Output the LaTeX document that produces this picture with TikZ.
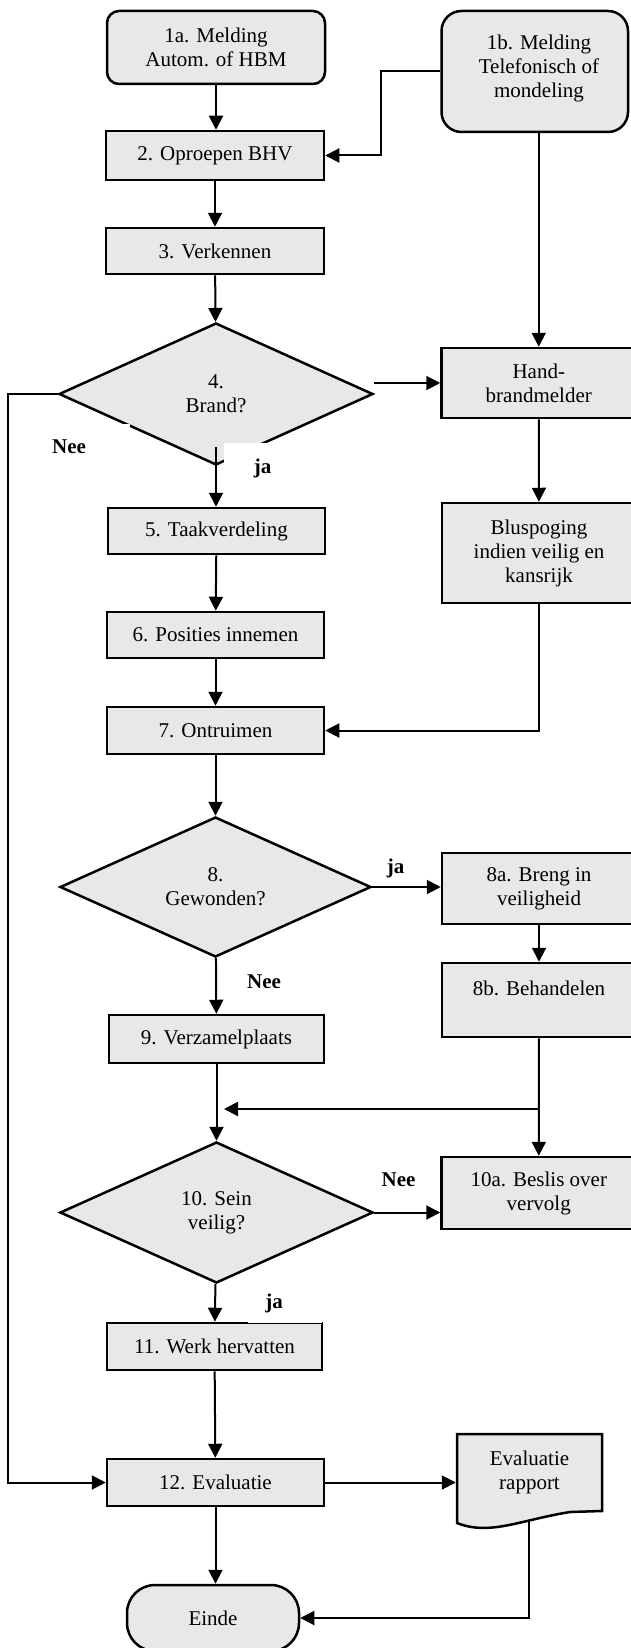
\documentclass[tikz,border=0pt]{standalone}
\usepackage{fontspec}
\setmainfont{Liberation Serif}
\usetikzlibrary{shapes.geometric,arrows.meta,calc}
\definecolor{boxfill}{RGB}{232,232,232}
\begin{document}
\begin{tikzpicture}[x=1pt,y=-1pt,
  font=\fontsize{21pt}{24pt}\selectfont,
  every node/.style={inner sep=0pt, align=center},
  box/.style={draw, fill=boxfill, line width=2.5pt, rectangle},
  rbox/.style={box, rounded corners=#1},
  dec/.style={draw, fill=boxfill, line width=2.5pt, diamond},
  arr/.style={line width=2pt, -{Triangle[length=14pt,width=14pt]}},
  lab/.style={font=\fontsize{21pt}{24pt}\selectfont\bfseries, anchor=base},
]
\useasboundingbox (0,0) rectangle (630,1648);

% nodes
\node[rbox=12, minimum width=218pt, minimum height=73pt] (n1a) at (216,47.5) {1a. Melding\\Autom. of HBM};
\node[rbox=20, minimum width=186.5pt, minimum height=121pt] (n1b) at (534.75,71.5) {};
\node (t1b) at (539,68) {1b. Melding\\Telefonisch of\\mondeling};
\node[box, minimum width=218pt, minimum height=49pt] (n2) at (215,155.5) {2. Oproepen BHV};
\node[box, minimum width=218pt, minimum height=46pt] (n3) at (215,251) {3. Verkennen};
\node[dec, minimum width=314pt, minimum height=142pt] (d4) at (216,394) {4.\\Brand?};
\node[box, minimum width=194.5pt, minimum height=70pt] (hand) at (538.75,383) {Hand-\\brandmelder};
\node[box, minimum width=217pt, minimum height=46pt] (n5) at (216.5,531) {5. Taakverdeling};
\node[box, minimum width=194pt, minimum height=100pt] (blus) at (539,553) {Bluspoging\\indien veilig en\\kansrijk};
\node[box, minimum width=217pt, minimum height=46pt] (n6) at (215.5,635) {6. Posities innemen};
\node[box, minimum width=217pt, minimum height=47pt] (n7) at (215.5,730.5) {7. Ontruimen};
\node[dec, minimum width=311pt, minimum height=140pt] (d8) at (215.5,887) {8.\\Gewonden?};
\node[box, minimum width=194pt, minimum height=71pt] (n8a) at (539,888.5) {8a. Breng in\\veiligheid};
\node[box, minimum width=194pt, minimum height=74pt] (n8b) at (539,1000) {};
\node (t8b) at (539,988.5) {8b. Behandelen};
\node[box, minimum width=215pt, minimum height=48pt] (n9) at (216.5,1039) {9. Verzamelplaats};
\node[dec, minimum width=313pt, minimum height=141pt] (d10) at (216.5,1212.5) {10. Sein\\veilig?};
\node[box, minimum width=194.5pt, minimum height=72pt] (n10a) at (538.75,1193) {10a. Beslis over\\vervolg};
\node[box, minimum width=215pt, minimum height=47pt] (n11) at (214.5,1346.5) {11. Werk hervatten};
\node[box, minimum width=217pt, minimum height=47pt] (n12) at (215.5,1482.5) {12. Evaluatie};
\draw[fill=boxfill, line width=2.5pt] (457,1434) -- (602,1434) -- (602,1511) -- (570,1512)
  .. controls (520,1520) and (490,1536) .. (457,1523) -- cycle;
\node[minimum width=145pt, minimum height=77pt, outer sep=1.25pt] (rep) at (529.5,1472.5) {Evaluatie\\rapport};
\node[rbox=28, minimum width=172pt, minimum height=66pt] (einde) at (213,1618) {Einde};

% white label backgrounds
\fill[white] (40,424) rectangle (130,470);
\fill[white] (224,443) rectangle (300,490);
\fill[white] (248,1284) rectangle (322,1323);

% labels
\node[lab] (l1) at (69,453) {Nee};
\node[lab] (l2) at (262.5,473) {ja};
\node[lab] (l3) at (395.5,873) {ja};
\node[lab] (l4) at (264,988) {Nee};
\node[lab] (l5) at (398.5,1186) {Nee};
\node[lab] (l6) at (274,1308) {ja};

% connectors
\draw[arr] (n1a.south) -- (n1a.south |- n2.north);
\draw[arr] (n1b.west) -- ++(-59.5,0) |- (n2.east);
\draw[arr] (n2) -- (n3);
\draw[arr] (n3) -- (d4);
\draw[arr] (n1b.south -| hand.north) -- (hand.north);
\draw[arr] (d4.east |- hand.west) -- (hand.west);
\draw[arr] (d4.west) -- ++(-49.5,0) |- (n12.west);
\draw[arr] ([yshift=19pt]d4.south) -- (d4.south |- n5.north);
\draw[arr] (hand) -- (blus);
\draw[arr] (n5) -- (n6);
\draw[arr] (n6) -- (n7);
\draw[arr] (blus.south) |- (n7.east);
\draw[arr] (n7) -- (d8);
\draw[arr] (d8.east) -- (d8.east -| n8a.west);
\draw[arr] (n8a) -- (n8b);
\draw[arr] (d8) -- (n9);
\draw[arr] (n9) -- (d10);
\draw[arr] (n8b) -- (n10a);
\coordinate (br) at (539,1109);
\coordinate (brend) at (224,1109);
\draw[arr] (br) -- (brend);
\draw[arr] (d10.east) -- (d10.east -| n10a.west);
\draw[arr] (d10) -- (n11);
\draw[arr] (n11) -- (n12);
\draw[arr] (n12.east) -- (n12.east -| rep.west);
\coordinate (repb) at (529,1520);
\draw[arr] (repb) |- (einde.east);
\draw[arr] (n12.south) -- (n12.south |- einde.north);
\end{tikzpicture}
\end{document}
